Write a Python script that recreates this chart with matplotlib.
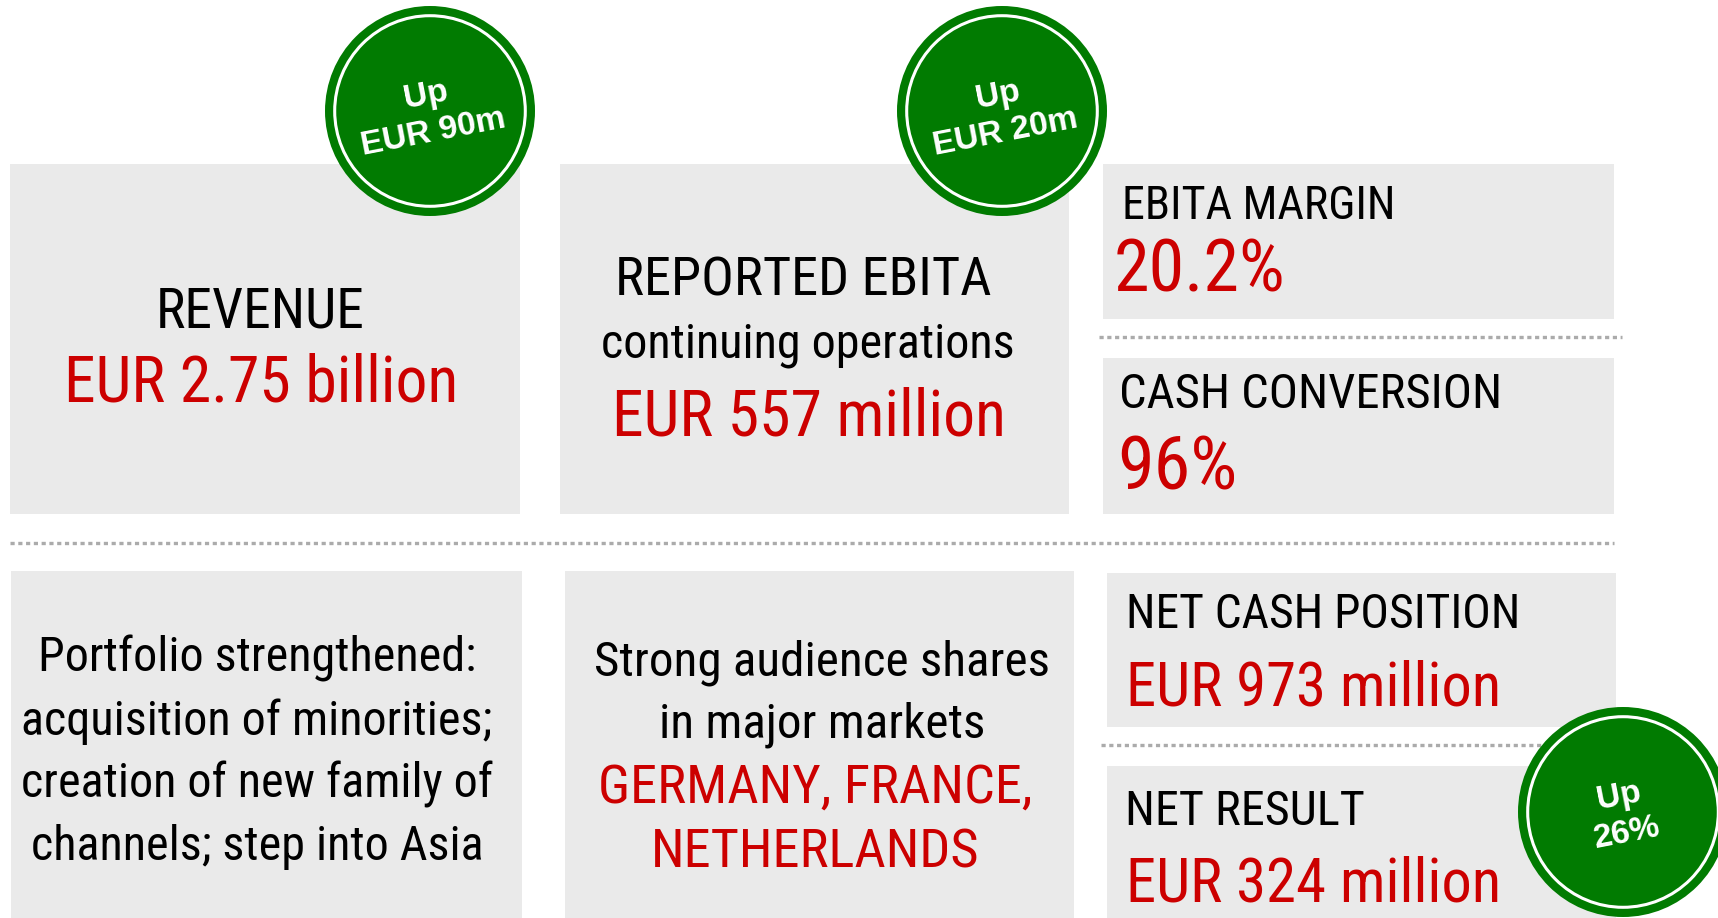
import matplotlib
matplotlib.use("Agg")
import matplotlib.pyplot as plt
from matplotlib.patches import Rectangle, Circle
from matplotlib import font_manager as fm

plt.rcParams["lines.scale_dashes"] = False

# ---------------- content ----------------
revenue_label = "REVENUE"
revenue_value = "EUR 2.75 billion"
ebita_label = ["REPORTED EBITA", "continuing operations"]
ebita_value = "EUR 557 million"
margin_label = "EBITA MARGIN"
margin_value = "20.2%"
cash_label = "CASH CONVERSION"
cash_value = "96%"
portfolio_lines = ["Portfolio strengthened:", "acquisition of minorities;",
                   "creation of new family of", "channels; step into Asia"]
audience_lines = ["Strong audience shares", "in major markets"]
audience_markets = ["GERMANY, FRANCE,", "NETHERLANDS"]
netcash_label = "NET CASH POSITION"
netcash_value = "EUR 973 million"
netresult_label = "NET RESULT"
netresult_value = "EUR 324 million"
badge_texts = ["Up\nEUR 90m", "Up\nEUR 20m", "Up\n26%"]

# ---------------- style ----------------
GREY_BOX = "#EAEAEA"
RED = "#CC0000"
GREEN = "#017B01"
DOT = "#ABABAB"

names = {f.name for f in fm.fontManager.ttflist}
if "Liberation Sans Narrow" in names:
    FAM = "Liberation Sans Narrow"
elif "Roboto Condensed" in names:
    FAM = "Roboto Condensed"
else:
    FAM = "Liberation Sans"
BADGE_FAM = "Liberation Sans" if "Liberation Sans" in names else "DejaVu Sans"

W, H = 1718, 918
fig = plt.figure(figsize=(W / 100, H / 100), dpi=100)
ax = fig.add_axes([0, 0, 1, 1])
ax.set_xlim(0, W)
ax.set_ylim(H, 0)
ax.axis("off")
renderer = fig.canvas.get_renderer()

def box(x0, y0, x1, y1):
    ax.add_patch(Rectangle((x0, y0), x1 - x0, y1 - y0, facecolor=GREY_BOX,
                           edgecolor="none", zorder=1))

def dotted(x0, x1, y):
    ax.plot([x0, x1], [y, y], color=DOT, lw=2.4, zorder=2,
            linestyle=(0, (3.0, 2.6)), dash_capstyle="butt")

def put(s, x, y, width, color, ha="left", size=30):
    t = ax.text(x, y, s, ha=ha, va="baseline", fontsize=size, color=color,
                family=FAM, zorder=3)
    w = t.get_window_extent(renderer).width
    t.set_fontsize(size * width / w)
    return t

def put_lines(lines, x, baselines, widths, colors):
    texts = [ax.text(x, b, s, ha="center", va="baseline", fontsize=30,
                     color=c, family=FAM, zorder=3)
             for s, b, c in zip(lines, baselines, colors)]
    tot = sum(t.get_window_extent(renderer).width for t in texts)
    size = 30 * sum(widths) / tot
    for t in texts:
        t.set_fontsize(size)

def badge(cx, cy, txt, rot=11):
    ax.add_patch(Circle((cx, cy), 105, facecolor=GREEN, edgecolor="none", zorder=5))
    ax.add_patch(Circle((cx, cy), 95.3, facecolor="none", edgecolor="white",
                        lw=2.2, zorder=6))
    ax.text(cx, cy + 3, txt, ha="center", va="center", rotation=rot,
            rotation_mode="anchor", color="white", fontsize=24,
            fontweight="bold", family=BADGE_FAM, linespacing=1.3, zorder=7,
            multialignment="center")

# ---------------- boxes ----------------
box(10, 164, 520, 514)
box(560, 164, 1069, 514)
box(1103, 164, 1614, 319)
box(1103, 358, 1614, 514)
box(11, 571, 522, 930)
box(565, 571, 1074, 930)
box(1107, 573, 1616, 727)
box(1107, 766, 1616, 930)

dotted(1099, 1622, 337)
dotted(10, 1614, 543)
dotted(1101, 1622, 745)

# ---------------- texts ----------------
put(revenue_label, 260, 328, 209, "black", ha="center")
put(revenue_value, 261, 402, 394, RED, ha="center")

put(ebita_label[0], 803, 296, 376, "black", ha="center")
put(ebita_label[1], 808, 357, 414, "black", ha="center")
put(ebita_value, 809, 435, 394, RED, ha="center")

put(margin_label, 1122, 219, 274, "black")
put(margin_value, 1114, 291, 171, RED)
put(cash_label, 1119, 408, 383, "black")
put(cash_value, 1117, 489, 120, RED)

put_lines(portfolio_lines, 257, [672, 735, 798, 860], [438, 466, 471, 457],
          ["black"] * 4)
put_lines(audience_lines, 822, [675, 737], [460, 323], ["black"] * 2)
put_lines(audience_markets, 815, [803, 867], [435, 329], [RED] * 2)

put(netcash_label, 1126, 628, 394, "black")
put(netcash_value, 1126, 705, 375, RED)
put(netresult_label, 1125, 825, 240, "black")
put(netresult_value, 1126, 901, 375, RED)

# ---------------- badges ----------------
badge(430, 111, badge_texts[0])
badge(1002, 111, badge_texts[1])
badge(1623, 812, badge_texts[2])

fig.savefig("out.png", dpi=100, facecolor="white")
